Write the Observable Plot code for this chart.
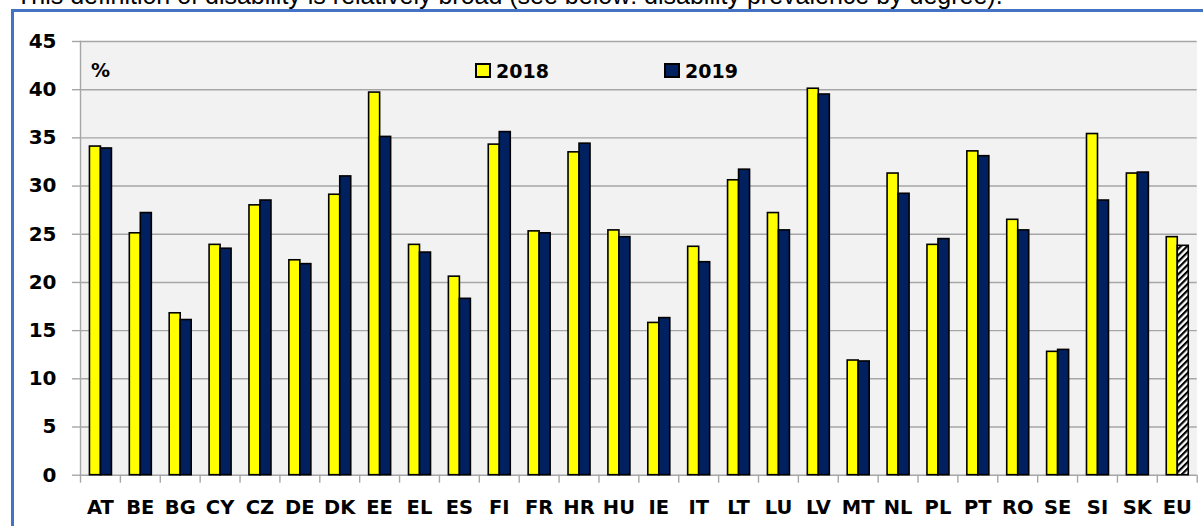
<!DOCTYPE html>
<html>
<head>
<meta charset="utf-8">
<script src="https://cdn.jsdelivr.net/npm/d3@7"></script>
<script src="https://cdn.jsdelivr.net/npm/@observablehq/plot@0.6"></script>
<style>
  html, body { margin: 0; padding: 0; background: #fff; overflow: hidden; }
  #wrap { position: relative; width: 1203px; height: 526px; overflow: hidden; }
  #caption { position: absolute; left: 16px; top: -17.5px; font: 25px "Liberation Sans", Arial, sans-serif; line-height: 25px; white-space: nowrap; color: #000; }
  #frame { position: absolute; left: 11px; top: 9px; right: -10px; bottom: -10px; border-left: 3px solid #4472c4; border-top: 3px solid #4472c4; background: #fff; }
  #chart { position: absolute; left: 0; top: 0; }
  .lg { position: absolute; font: bold 19px "DejaVu Sans", sans-serif; line-height: 19px; color: #000; white-space: nowrap; }
  .sw { position: absolute; width: 12px; height: 11px; border: 2px solid #000; }
</style>
</head>
<body>
<div id="wrap">
  <div id="caption">This definition of disability is relatively broad (see below: disability prevalence by degree).</div>
  <div id="frame"></div>
  <div id="chart"></div>
  <div class="lg" style="left:91px;top:61px">%</div>
  <div class="sw" style="left:475px;top:63px;background:#ffff00"></div>
  <div class="lg" style="left:496px;top:62px">2018</div>
  <div class="sw" style="left:664px;top:63px;background:#002060"></div>
  <div class="lg" style="left:685px;top:62px">2019</div>
</div>
<script>
const categories = ["AT","BE","BG","CY","CZ","DE","DK","EE","EL","ES","FI","FR","HR","HU","IE","IT","LT","LU","LV","MT","NL","PL","PT","RO","SE","SI","SK","EU"];
const values2018 = [34.1,25.1,16.8,23.9,28.0,22.3,29.1,39.7,23.9,20.6,34.3,25.3,33.5,25.4,15.8,23.7,30.6,27.2,40.1,11.9,31.3,23.9,33.6,26.5,12.8,35.4,31.3,24.7];
const values2019 = [33.9,27.2,16.1,23.5,28.5,21.9,31.0,35.1,23.1,18.3,35.6,25.1,34.4,24.7,16.3,22.1,31.7,25.4,39.5,11.8,29.2,24.5,33.1,25.4,13.0,28.5,31.4,23.8];
const yTicks = [0,5,10,15,20,25,30,35,40,45];

const rows = categories.map((c, i) => ({cat: c, v2018: values2018[i], v2019: values2019[i]}));

const W = 1203, H = 526;
const mL = 80, mR = 6.3, mT = 41, mB = 51.3;
const step = (W - mL - mR) / categories.length;
const half = step / 2;
const grid = "#a6a6a6";
const font = "DejaVu Sans, sans-serif";

const barStyle = {stroke: "#000", strokeWidth: 1.6};
const chart = Plot.plot({
  width: W, height: H,
  marginLeft: mL, marginRight: mR, marginTop: mT, marginBottom: mB,
  style: {fontFamily: font, background: "transparent", overflow: "visible"},
  x: {domain: categories, padding: 0, round: false, label: null, axis: null},
  y: {domain: [0, 45], label: null, axis: null},
  marks: [
    Plot.frame({fill: "#f2f2f2", stroke: null}),
    Plot.ruleY(yTicks, {stroke: grid, strokeWidth: 1.4}),
    Plot.frame({anchor: "left", stroke: grid, strokeWidth: 1.4}),
    Plot.axisY({ticks: yTicks, tickSize: 8, tickPadding: 16, stroke: grid, strokeWidth: 1.4, fill: "#000",
      fontSize: 20, fontWeight: "bold", label: null}),
    Plot.axisX({tickSize: 8, tickFormat: () => "", dx: -half, stroke: grid, strokeWidth: 1.4, label: null}),
    Plot.axisX({ticks: categories.slice(-1), tickSize: 8, tickFormat: () => "", dx: half, stroke: grid, strokeWidth: 1.4, label: null}),
    Plot.axisX({tickSize: 0, tickPadding: 25, fill: "#000", fontSize: 19.5, fontWeight: "bold", label: null}),
    Plot.barY(rows, {x: "cat", y: "v2018", fill: "#ffff00", ...barStyle,
      insetLeft: half - 10.5, insetRight: half - 0.5}),
    Plot.barY(rows.filter(d => d.cat !== "EU"), {x: "cat", y: "v2019", fill: "#002060", ...barStyle,
      insetLeft: half + 0.5, insetRight: half - 11.5}),
    Plot.barY(rows.filter(d => d.cat === "EU"), {x: "cat", y: "v2019", fill: "url(#hatch)", ...barStyle,
      insetLeft: half + 0.5, insetRight: half - 11.5})
  ]
});

const ns = "http://www.w3.org/2000/svg";
const defs = document.createElementNS(ns, "defs");
defs.innerHTML = '<pattern id="hatch" patternUnits="userSpaceOnUse" width="4.5" height="4.5" patternTransform="rotate(45)">' +
  '<rect width="4.5" height="4.5" fill="#fff"/><rect width="2.2" height="4.5" fill="#000"/></pattern>';
chart.insertBefore(defs, chart.firstChild);
document.getElementById("chart").appendChild(chart);
</script>
</body>
</html>
